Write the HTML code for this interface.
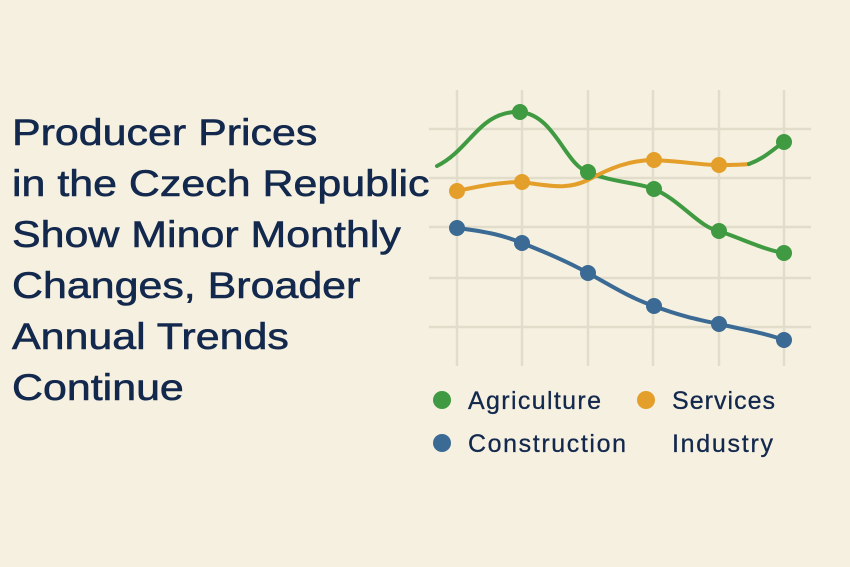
<!DOCTYPE html>
<html><head><style>
body{margin:0;width:850px;height:567px;background:#f6f0e0;overflow:hidden;font-family:"Liberation Sans",sans-serif;}
.t{position:absolute;left:12px;top:107px;font-size:37px;line-height:51px;color:#13284d;transform-origin:0 0;transform:scaleX(1.16);-webkit-text-stroke:0.6px #13284d;white-space:nowrap;}
</style></head><body>
<div class="t">Producer Prices<br>in the Czech Republic<br>Show Minor Monthly<br>Changes, Broader<br>Annual Trends<br>Continue</div>
<svg width="850" height="567" style="position:absolute;left:0;top:0">
<g stroke="#e2dccb" stroke-width="2.5">
<line x1="457" y1="90" x2="457" y2="366"/><line x1="522" y1="90" x2="522" y2="366"/><line x1="588" y1="90" x2="588" y2="366"/><line x1="653" y1="90" x2="653" y2="366"/><line x1="719" y1="90" x2="719" y2="366"/><line x1="784" y1="90" x2="784" y2="366"/>
<line x1="429" y1="129" x2="811" y2="129"/><line x1="429" y1="178" x2="811" y2="178"/><line x1="429" y1="227" x2="811" y2="227"/><line x1="429" y1="278" x2="811" y2="278"/><line x1="429" y1="327" x2="811" y2="327"/>
</g>
<g fill="none" stroke-width="4" stroke-linecap="round">
<path d="M437,166 C470,150 480,110 520,112 C555,115 565,165 588,172 C610,182 640,183 654,189 C680,200 700,228 719,231 C745,240 765,250 784,253" stroke="#3f9a41"/>
<path d="M457,191 C480,186 500,182 522,182 C560,188 570,188 588,180 C610,168 630,160 654,160 C690,162 700,165 719,165 C735,165 740,165 749,164" stroke="#e49f2b"/>
<path d="M749,164 C765,158 772,150 784,142" stroke="#3f9a41"/>
<path d="M457,228 C490,232 505,236 522,243 C550,254 570,263 588,273 C610,285 630,298 654,306 C680,316 700,320 719,324 C745,330 765,333 784,340" stroke="#3b6a94"/>
</g>
<g fill="#3f9a41"><circle cx="520" cy="112" r="8"/><circle cx="588" cy="172" r="8"/><circle cx="654" cy="189" r="8"/><circle cx="719" cy="231" r="8"/><circle cx="784" cy="253" r="8"/><circle cx="784" cy="142" r="8"/><circle cx="442" cy="400" r="9"/></g>
<g fill="#e49f2b"><circle cx="457" cy="191" r="8"/><circle cx="522" cy="182" r="8"/><circle cx="654" cy="160" r="8"/><circle cx="719" cy="165" r="8"/><circle cx="646" cy="400" r="9"/></g>
<g fill="#3b6a94"><circle cx="457" cy="228" r="8"/><circle cx="522" cy="243" r="8"/><circle cx="588" cy="273" r="8"/><circle cx="654" cy="306" r="8"/><circle cx="719" cy="324" r="8"/><circle cx="784" cy="340" r="8"/><circle cx="442" cy="443" r="9"/></g>
<g font-family="Liberation Sans, sans-serif" font-size="25" fill="#13284d" stroke="#13284d" stroke-width="0.3">
<text x="468" y="409" textLength="133">Agriculture</text><text x="672" y="409" textLength="103">Services</text>
<text x="468" y="452" textLength="158">Construction</text><text x="672" y="452" textLength="101">Industry</text>
</g>
</svg>
</body></html>
